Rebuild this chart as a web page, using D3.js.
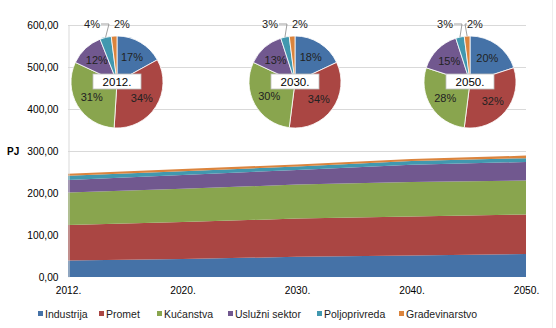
<!DOCTYPE html>
<html>
<head>
<meta charset="utf-8">
<script src="https://cdn.jsdelivr.net/npm/d3@7"></script>
<style>
  body { margin: 0; background: #fff; }
  text { font-family: "Liberation Sans", Arial, sans-serif; }
</style>
</head>
<body>
<div id="chart"></div>
<script>
const years = ["2012.", "2020.", "2030.", "2040.", "2050."];
const sectors = ["Industrija", "Promet", "Kućanstva", "Uslužni sektor", "Poljoprivreda", "Građevinarstvo"];
const colors = ["#4572A7", "#AA4643", "#89A54E", "#71588F", "#4198AF", "#DB843D"];

// PJ per sector and year
const industrija = [39, 43, 48, 51, 55];
const promet = [85, 88, 91, 93, 94];
const kucanstva = [77, 79, 81, 82, 81];
const usluzni = [30, 33, 35, 41, 44];
const poljoprivreda = [10, 9, 8, 9, 9];
const gradjevinarstvo = [5, 5, 5, 5, 6];

const yTicks = [0, 100, 200, 300, 400, 500, 600];

// pie shares (%) for selected years
const pieYears = ["2012.", "2030.", "2050."];
const share2012 = [17, 34, 31, 12, 4, 2];
const share2030 = [18, 34, 30, 13, 3, 2];
const share2050 = [20, 32, 28, 15, 3, 2];

const width = 556, height = 328;
const margin = {top: 25, right: 30, bottom: 51, left: 68};

const svg = d3.select("#chart").append("svg")
  .attr("width", width).attr("height", height);

svg.append("line")
  .attr("x1", 552.5).attr("x2", 552.5).attr("y1", 0).attr("y2", height)
  .attr("stroke", "#eeeeee");

const x = d3.scalePoint().domain(years).range([margin.left, width - margin.right]);
const y = d3.scaleLinear().domain([0, 600]).range([height - margin.bottom, margin.top]);

const rows = years.map((yr, i) => ({
  year: yr,
  s0: industrija[i], s1: promet[i], s2: kucanstva[i],
  s3: usluzni[i], s4: poljoprivreda[i], s5: gradjevinarstvo[i]
}));
const keys = ["s0", "s1", "s2", "s3", "s4", "s5"];
const stacked = d3.stack().keys(keys)(rows);

// grid
svg.append("g")
  .selectAll("line")
  .data(yTicks.slice(1))
  .enter().append("line")
    .attr("x1", margin.left).attr("x2", width - margin.right)
    .attr("y1", d => Math.round(y(d)) + 0.5).attr("y2", d => Math.round(y(d)) + 0.5)
    .attr("stroke", "#d9d9d9");

const area = d3.area()
  .x(d => x(d.data.year))
  .y0(d => y(d[0]))
  .y1(d => y(d[1]));

svg.append("g")
  .selectAll("path")
  .data(stacked)
  .enter().append("path")
    .attr("fill", (d, i) => colors[i])
    .attr("d", area);

// y axis
const axisY = d3.axisLeft(y).tickValues(yTicks).tickSize(0).tickPadding(10)
  .tickFormat(d => d3.format(".2f")(d).replace(".", ","));
const gy = svg.append("g")
  .attr("transform", `translate(${margin.left + 0.5},0)`)
  .call(axisY);
gy.select(".domain").attr("stroke", "#d9d9d9");
gy.selectAll("text").attr("font-size", 10.2).attr("fill", "#000")
  .attr("font-family", "Liberation Sans, Arial, sans-serif");

// x axis
const axisX = d3.axisBottom(x).tickSize(0).tickPadding(10);
const gx = svg.append("g")
  .attr("transform", `translate(0,${height - margin.bottom})`)
  .call(axisX);
gx.select(".domain").remove();
gx.selectAll("text").attr("font-size", 10.2).attr("fill", "#000")
  .attr("font-family", "Liberation Sans, Arial, sans-serif");

svg.append("text")
  .attr("x", 7).attr("y", 155)
  .attr("font-size", 10).attr("font-weight", "bold")
  .text("PJ");

// pies
const pies = [
  {label: pieYears[0], shares: share2012, cx: 117, cy: 82},
  {label: pieYears[1], shares: share2030, cx: 295, cy: 82},
  {label: pieYears[2], shares: share2050, cx: 470, cy: 82}
];
const r = 46;
const pie = d3.pie().sort(null).value(d => d);
const arc = d3.arc().innerRadius(0).outerRadius(r);
const labelArc = d3.arc().innerRadius(r * 0.64).outerRadius(r * 0.64);

pies.forEach(p => {
  const g = svg.append("g").attr("transform", `translate(${p.cx},${p.cy})`);
  const arcs = pie(p.shares);
  g.selectAll("path")
    .data(arcs)
    .enter().append("path")
      .attr("d", arc)
      .attr("fill", (d, i) => colors[i])
      .attr("stroke", "#fff").attr("stroke-width", 0.8);

  arcs.forEach((a, i) => {
    if (p.shares[i] >= 10) {
      const c = labelArc.centroid(a);
      g.append("text")
        .attr("x", c[0]).attr("y", c[1])
        .attr("text-anchor", "middle").attr("dy", "0.35em")
        .attr("font-size", 11).attr("fill", "#222")
        .text(p.shares[i] + "%");
    }
  });

  // small slices: labels above the pie
  const teal = arcs[4], orange = arcs[5];
  const tMid = (teal.startAngle + teal.endAngle) / 2;
  const oMid = (orange.startAngle + orange.endAngle) / 2;
  const tx = Math.sin(tMid) * r, ty = -Math.cos(tMid) * r;
  const ox = Math.sin(oMid) * r, oy = -Math.cos(oMid) * r;
  const labTy = -r - 12, labOy = -r - 12;
  g.append("text")
    .attr("x", -17).attr("y", labTy + 4)
    .attr("text-anchor", "end").attr("font-size", 11).attr("fill", "#222")
    .text(p.shares[4] + "%");
  g.append("text")
    .attr("x", -3).attr("y", labOy + 4)
    .attr("text-anchor", "start").attr("font-size", 11).attr("fill", "#222")
    .text(p.shares[5] + "%");
  g.append("path")
    .attr("d", `M${-16},${labTy} L${-8},${labTy} L${tx},${ty}`)
    .attr("fill", "none").attr("stroke", "#888").attr("stroke-width", 0.8);
  if (p.label === "2050.") {
    g.append("path")
      .attr("d", `M${-3},${labOy} L${-5},${labOy} L${ox},${oy}`)
      .attr("fill", "none").attr("stroke", "#888").attr("stroke-width", 0.8);
  }

  g.append("rect")
    .attr("x", -24).attr("y", -8).attr("width", 48).attr("height", 15)
    .attr("fill", "#fff").attr("stroke", "#bfbfbf").attr("stroke-width", 0.8);
  g.append("text")
    .attr("x", 0).attr("y", 0).attr("dy", "0.35em")
    .attr("text-anchor", "middle").attr("font-size", 11.5)
    .text(p.label);
});

// legend
const legendX = [38, 99, 157, 228, 317, 399];
const lg = svg.append("g").attr("transform", "translate(0,314)");
sectors.forEach((s, i) => {
  lg.append("rect")
    .attr("x", legendX[i]).attr("y", -3).attr("width", 5).attr("height", 5)
    .attr("fill", colors[i]);
  lg.append("text")
    .attr("x", legendX[i] + 7).attr("y", 0).attr("dy", "0.35em")
    .attr("font-size", 10.5).attr("fill", "#222")
    .text(s);
});
</script>
</body>
</html>
